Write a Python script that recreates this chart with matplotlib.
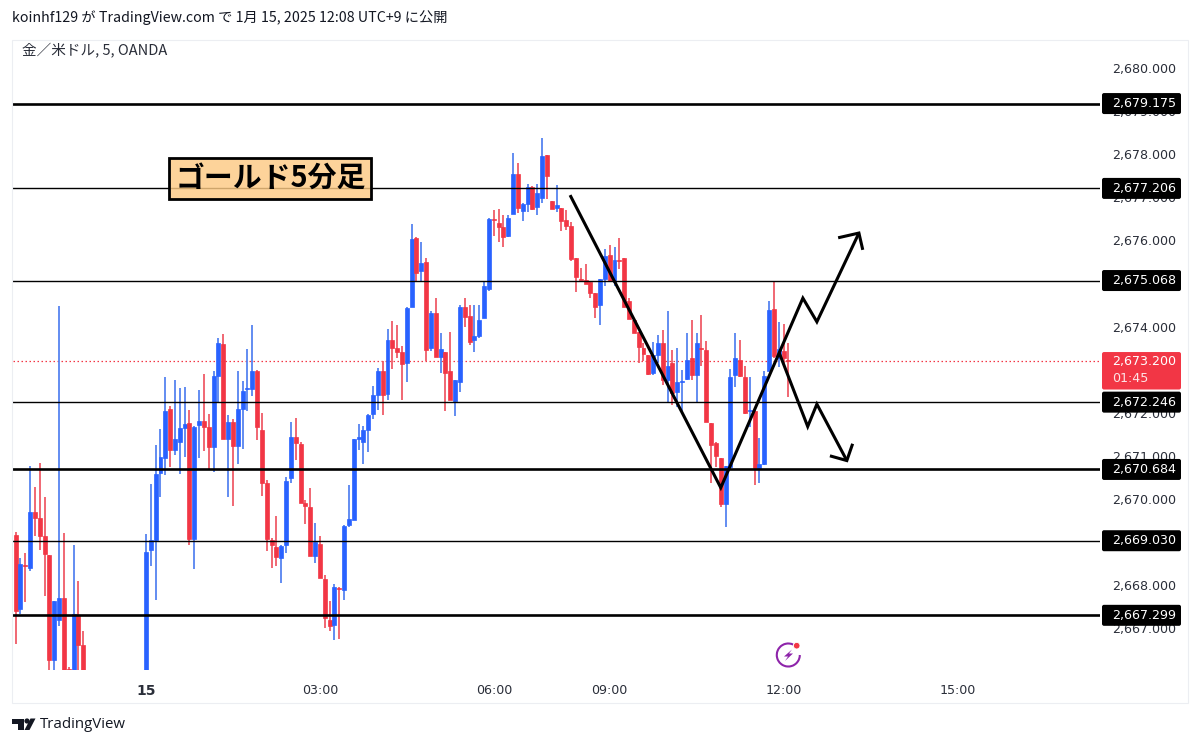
import numpy as np
import matplotlib
matplotlib.use("Agg")
import matplotlib.pyplot as plt
from matplotlib.patches import Rectangle, FancyBboxPatch, Polygon, Circle, Arc
from matplotlib.transforms import Affine2D, IdentityTransform, blended_transform_factory

# 5 minute bars, index 0 is the 00:00 bar of the 15th
bar_index = list(range(-27, -12)) + list(range(0, 134))

opens = [2669.17, 2667.45, 2668.47, 2668.40, 2669.70, 2669.55, 2669.13, 2668.71, 2666.26, 2667.18,
         2667.70, 2666.06, 2666.04, 2667.29, 2666.60,
         2666.04, 2668.81, 2669.05, 2670.60, 2670.96, 2672.08, 2671.14, 2671.33, 2671.64, 2671.76,
         2669.08, 2671.71, 2671.80, 2671.67, 2671.21, 2672.86, 2673.60, 2671.39, 2671.78, 2671.23,
         2672.09, 2672.55, 2672.55, 2672.96, 2671.59, 2670.38, 2669.05, 2668.89, 2668.64, 2668.92,
         2670.49, 2671.44, 2671.28, 2669.90, 2669.82, 2668.67, 2668.95, 2668.14, 2667.20, 2667.08,
         2667.94, 2667.88, 2669.39, 2669.51, 2671.40, 2671.33, 2671.61, 2671.98, 2672.42, 2672.97,
         2672.43, 2673.69, 2673.50, 2673.41, 2673.16, 2674.45, 2676.05, 2675.29, 2675.50, 2673.51,
         2674.31, 2673.29, 2673.41, 2672.98, 2672.28, 2672.72, 2674.46, 2674.25, 2673.69, 2673.78,
         2674.20, 2674.87, 2676.50, 2676.41, 2676.31, 2676.09, 2676.61, 2677.54, 2676.68, 2676.84,
         2677.25, 2676.77, 2676.98, 2677.99, 2676.92, 2676.74, 2676.74, 2676.48, 2676.33, 2675.58,
         2675.11, 2675.07, 2675.03, 2674.77, 2674.49, 2675.11, 2675.65, 2675.04, 2675.55, 2675.59,
         2674.59, 2674.15, 2673.87, 2673.50, 2673.33, 2672.93, 2673.34, 2673.63, 2672.75, 2673.16,
         2672.48, 2672.72, 2672.79, 2673.28, 2672.88, 2673.51, 2673.45, 2671.77, 2671.30, 2670.96,
         2669.88, 2670.75, 2672.87, 2673.23, 2672.82, 2672.03, 2672.03, 2670.72, 2670.80, 2672.97,
         2674.41, 2673.28, 2673.43, 2673.22]
closes = [2667.41, 2668.50, 2668.44, 2669.70, 2669.55, 2669.15, 2668.72, 2666.26, 2667.64, 2667.69,
          2666.04, 2666.04, 2667.32, 2666.61, 2666.04,
          2668.77, 2669.05, 2670.58, 2670.97, 2672.05, 2671.14, 2671.39, 2671.64, 2671.74, 2669.08,
          2671.68, 2671.81, 2671.67, 2671.21, 2672.86, 2673.62, 2671.39, 2671.78, 2671.23, 2672.08,
          2672.51, 2672.57, 2672.97, 2671.66, 2670.36, 2669.08, 2668.92, 2668.66, 2668.90, 2670.42,
          2671.43, 2671.30, 2669.90, 2669.83, 2668.68, 2669.00, 2668.17, 2667.24, 2667.06, 2667.96,
          2667.91, 2669.38, 2669.53, 2671.39, 2671.44, 2671.60, 2671.95, 2672.42, 2672.97, 2672.42,
          2673.69, 2673.50, 2673.41, 2673.13, 2674.44, 2676.03, 2675.25, 2675.47, 2673.46, 2674.32,
          2673.30, 2673.49, 2672.93, 2672.30, 2672.76, 2674.46, 2674.23, 2673.64, 2673.78, 2674.15,
          2674.95, 2676.50, 2676.48, 2676.31, 2676.07, 2676.52, 2677.53, 2676.74, 2676.84, 2677.23,
          2676.72, 2677.11, 2677.96, 2677.49, 2676.73, 2676.82, 2676.46, 2676.33, 2675.56, 2675.15,
          2675.08, 2674.99, 2674.79, 2674.45, 2675.11, 2675.63, 2675.06, 2675.54, 2675.53, 2674.46,
          2674.18, 2673.84, 2673.52, 2673.36, 2672.91, 2673.33, 2673.61, 2672.76, 2673.09, 2672.45,
          2672.72, 2672.74, 2673.23, 2672.88, 2673.61, 2673.47, 2671.78, 2671.26, 2671.00, 2669.88,
          2670.77, 2672.84, 2673.27, 2672.85, 2672.00, 2672.06, 2670.72, 2670.81, 2672.85, 2674.39,
          2673.32, 2673.47, 2673.28, 2673.20]
highs = [2669.23, 2668.63, 2668.75, 2670.77, 2670.28, 2670.83, 2670.04, 2668.71, 2667.64, 2674.48,
         2669.21, 2666.09, 2668.94, 2668.09, 2666.94,
         2669.18, 2670.35, 2671.26, 2671.62, 2672.82, 2672.15, 2672.76, 2672.57, 2672.59, 2672.07,
         2671.70, 2672.52, 2672.90, 2671.98, 2672.98, 2673.73, 2673.82, 2671.95, 2671.86, 2672.96,
         2672.74, 2673.48, 2674.04, 2673.00, 2671.99, 2670.43, 2669.09, 2669.60, 2668.92, 2670.52,
         2671.79, 2671.88, 2671.31, 2669.98, 2670.25, 2669.43, 2669.13, 2668.24, 2667.64, 2668.03,
         2667.96, 2669.40, 2670.33, 2671.39, 2671.74, 2671.70, 2671.97, 2672.61, 2673.04, 2673.19,
         2673.95, 2674.12, 2674.04, 2673.55, 2674.46, 2676.37, 2676.07, 2675.97, 2675.60, 2674.35,
         2674.67, 2673.84, 2673.41, 2673.88, 2672.76, 2674.50, 2674.66, 2674.50, 2674.50, 2674.50,
         2675.04, 2676.51, 2676.70, 2676.72, 2676.59, 2676.60, 2678.03, 2677.80, 2676.86, 2677.30,
         2677.26, 2677.30, 2678.37, 2677.99, 2676.92, 2677.28, 2676.74, 2676.70, 2676.43, 2675.58,
         2675.35, 2675.45, 2675.03, 2674.77, 2675.11, 2675.80, 2675.89, 2675.85, 2676.05, 2675.59,
         2674.66, 2674.19, 2673.87, 2673.61, 2673.33, 2673.65, 2673.81, 2673.92, 2674.35, 2673.46,
         2673.50, 2672.99, 2673.84, 2674.15, 2673.84, 2674.27, 2673.66, 2671.77, 2671.33, 2670.96,
         2670.77, 2673.01, 2673.86, 2673.69, 2673.09, 2672.84, 2672.06, 2671.42, 2672.98, 2674.60,
         2675.04, 2674.10, 2674.06, 2673.63]
lows = [2666.63, 2667.32, 2667.61, 2668.32, 2669.15, 2668.82, 2667.74, 2666.04, 2666.04, 2667.04,
        2666.04, 2666.04, 2666.04, 2666.04, 2666.04,
        2666.04, 2668.45, 2667.66, 2670.04, 2670.55, 2670.73, 2671.03, 2670.58, 2670.97, 2668.92,
        2668.38, 2670.96, 2671.12, 2670.69, 2670.62, 2672.22, 2671.39, 2670.04, 2669.84, 2670.82,
        2671.17, 2672.05, 2672.39, 2671.36, 2670.07, 2668.78, 2668.40, 2668.44, 2668.05, 2668.75,
        2670.37, 2670.91, 2669.90, 2669.42, 2668.68, 2668.51, 2668.17, 2667.01, 2666.94, 2666.72,
        2666.75, 2667.65, 2669.36, 2669.51, 2671.13, 2670.82, 2671.08, 2671.86, 2672.07, 2671.95,
        2672.30, 2673.02, 2673.26, 2672.30, 2672.72, 2674.45, 2675.04, 2675.04, 2673.21, 2673.44,
        2673.30, 2672.92, 2672.03, 2672.30, 2671.93, 2672.49, 2673.98, 2673.57, 2673.42, 2673.73,
        2674.19, 2674.83, 2676.10, 2675.97, 2675.84, 2676.07, 2676.61, 2676.64, 2676.46, 2676.67,
        2676.70, 2676.59, 2676.87, 2676.96, 2676.73, 2676.67, 2676.22, 2676.24, 2675.52, 2674.80,
        2675.07, 2674.99, 2674.67, 2674.19, 2674.04, 2674.93, 2675.04, 2674.94, 2675.33, 2674.45,
        2674.18, 2673.84, 2673.16, 2673.19, 2672.88, 2672.88, 2673.16, 2672.65, 2672.22, 2672.18,
        2672.14, 2671.99, 2672.76, 2672.76, 2672.22, 2673.09, 2671.78, 2670.36, 2670.75, 2669.82,
        2669.34, 2670.67, 2672.59, 2672.82, 2671.97, 2671.68, 2670.32, 2670.36, 2670.78, 2672.97,
        2673.28, 2673.07, 2673.15, 2672.37]

# horizontal levels drawn on the chart, and which ones are the heavy lines
levels = [2679.175, 2677.206, 2675.068, 2672.246, 2670.684, 2669.030, 2667.299]
level_heavy = [True, False, False, False, True, False, True]
last_price = 2673.200
countdown = "01:45"

# 2669, 2673 and 2675 sit fully behind the level labels, so they are left out
price_ticks = [2667, 2668, 2670, 2671, 2672, 2674, 2676, 2677, 2678, 2679, 2680]
time_ticks = [0, 36, 72, 96, 132, 168]
time_labels = ["15", "03:00", "06:00", "09:00", "12:00", "15:00"]

# hand drawn scenario paths (bar index, price)
path_up_x = [87.8, 119.0, 136.0, 138.9, 147.6]
path_up_y = [2677.05, 2670.26, 2674.66, 2674.11, 2676.17]
head_up_x = [143.3, 147.6, 148.4]
head_up_y = [2676.06, 2676.17, 2675.78]
path_down_x = [131.1, 137.0, 138.9, 145.1]
path_down_y = [2673.39, 2671.68, 2672.20, 2670.89]
head_down_x = [141.6, 145.1, 146.3]
head_down_y = [2671.00, 2670.89, 2671.28]

BLUE = "#2962ff"
RED = "#f23645"
JP_FONT = ["Noto Sans CJK JP", "DejaVu Sans"]
TEXT = "#2a2e39"

W, H = 1200, 746
# top-left pixel coordinates
px = Affine2D().scale(1, -1).translate(0, H)


def main():
    fig = plt.figure(figsize=(W / 100, H / 100), dpi=100, facecolor="white")

    # pane from x 13 to 1100, y 40 to 670; the bars run out of the bottom of it
    ax = fig.add_axes([13 / W, 1 - 670 / H, (1100 - 13) / W, (670 - 40) / H])
    ax.set_xlim((13 - 146) / 4.83, (1100 - 146) / 4.83)
    ax.set_ylim(2666.03, 2680.65)
    for s in ax.spines.values():
        s.set_visible(False)

    fig.add_artist(Rectangle((12, 40), 1176, 663, transform=px, fill=False,
                             edgecolor="#eceef2", linewidth=0.8))

    x = np.array(bar_index)
    o = np.array(opens)
    c = np.array(closes)
    colors = [BLUE if b >= a else RED for a, b in zip(o, c)]
    wick_colors = ["#4f7ff0" if b >= a else "#ee5562" for a, b in zip(o, c)]

    ax.axhline(last_price, color=RED, linewidth=0.9, linestyle=(0, (1.2, 2)), zorder=1)
    ax.vlines(x, lows, highs, colors=wick_colors, linewidth=1.25, zorder=2)
    ax.bar(x, np.abs(c - o), bottom=np.minimum(o, c), width=0.82, color=colors,
           edgecolor=colors, linewidth=0.5, zorder=2.2)

    for level, heavy in zip(levels, level_heavy):
        ax.axhline(level, color="black", linewidth=1.9 if heavy else 1.0, zorder=3)

    # scenario arrows
    for xs, ys in [(path_up_x, path_up_y), (head_up_x, head_up_y),
                   (path_down_x, path_down_y), (head_down_x, head_down_y)]:
        ax.plot(xs, ys, color="black", linewidth=2.2, solid_joinstyle="miter",
                solid_capstyle="butt", zorder=4)

    # price scale
    ax.yaxis.tick_right()
    ax.set_yticks(price_ticks)
    ax.set_yticklabels(["{:,.3f}".format(p) for p in price_ticks])
    ax.tick_params(axis="y", length=0, pad=8.6, labelsize=9.1, labelcolor=TEXT)
    ax.set_xticks(time_ticks)
    ax.set_xticklabels(time_labels)
    ax.tick_params(axis="x", length=0, pad=10, labelsize=9.1, labelcolor=TEXT)
    ax.get_xticklabels()[0].set_fontweight("bold")
    ax.get_xticklabels()[0].set_fontsize(10)

    # labels on the price scale, x in pixels and y in price
    scale = blended_transform_factory(IdentityTransform(), ax.transData)
    px_per_unit = 43.1
    for level in levels:
        h = 21 / px_per_unit
        ax.add_patch(FancyBboxPatch((1102, level - h / 2), 79, h, transform=scale,
                                    boxstyle="round,pad=0,rounding_size=2",
                                    mutation_aspect=1 / px_per_unit, facecolor="black",
                                    edgecolor="none", clip_on=False, zorder=6))
        ax.text(1112, level, "{:,.3f}".format(level), transform=scale, color="white",
                fontsize=9.1, va="center", ha="left", clip_on=False, zorder=7)

    top = last_price + 9 / px_per_unit
    h = 37.5 / px_per_unit
    ax.add_patch(FancyBboxPatch((1102, top - h), 79, h, transform=scale,
                                boxstyle="round,pad=0,rounding_size=2",
                                mutation_aspect=1 / px_per_unit, facecolor=RED,
                                edgecolor="none", clip_on=False, zorder=6))
    ax.text(1112, last_price, "{:,.3f}".format(last_price), transform=scale, color="white",
            fontsize=9.1, va="center", ha="left", clip_on=False, zorder=7)
    ax.text(1112, last_price - 17 / px_per_unit, countdown, transform=scale, color="#fde3e5",
            fontsize=9.1, va="center", ha="left", clip_on=False, zorder=7)

    # title box on the chart, the level line shows faintly through it
    fig.add_artist(Rectangle((168.5, 158), 202.5, 41, transform=px, facecolor="#fdca84",
                             alpha=0.82, edgecolor="none"))
    fig.add_artist(Rectangle((168.5, 158), 202.5, 41, transform=px, fill=False,
                             edgecolor="black", linewidth=2.0))
    fig.text(270.5 / W, 1 - 178 / H, "ゴールド5分足", family=JP_FONT, fontsize=20.8,
             fontweight="bold", color="black", ha="center", va="center")

    # header and symbol line
    fig.text(12 / W, 1 - 18 / H, "koinhf129 が TradingView.com で 1月 15, 2025 12:08 UTC+9 に公開",
             family=JP_FONT, fontsize=10.25, color="#131722", va="center")
    fig.text(22 / W, 1 - 51 / H, "金／米ドル, 5, OANDA", family=JP_FONT, fontsize=10.5,
             color="#2a2e39", va="center")

    # TradingView logo
    dark = "#131722"
    fig.add_artist(Polygon([(12, 718.5), (24, 718.5), (24, 730), (18, 730), (18, 724), (12, 724)],
                           transform=px, facecolor=dark, edgecolor="none"))
    fig.add_artist(Circle((27, 721), 2.6, transform=px, facecolor=dark, edgecolor="none"))
    fig.add_artist(Polygon([(30.5, 718.5), (35.5, 718.5), (29.5, 730), (24.5, 730)],
                           transform=px, facecolor=dark, edgecolor="none"))
    fig.text(40 / W, 1 - 725 / H, "TradingView", family="Open Sans", fontsize=10.8,
             color=dark, va="center")

    # ideas icon under the bars
    purple = "#8e24aa"
    fig.add_artist(Arc((788.3, 655), 23, 23, theta1=0, theta2=295, transform=px,
                       edgecolor=purple, linewidth=1.5))
    fig.add_artist(Polygon([(792, 649.5), (784, 656.5), (788, 656.5), (785, 661),
                            (793, 653.5), (789, 653.5)],
                           transform=px, facecolor=purple, edgecolor="none"))
    fig.add_artist(Circle((796.7, 645.7), 3.3, transform=px, facecolor="#f23645",
                          edgecolor="white", linewidth=0.6))

    fig.savefig("out.png", dpi=100)


if __name__ == "__main__":
    main()
